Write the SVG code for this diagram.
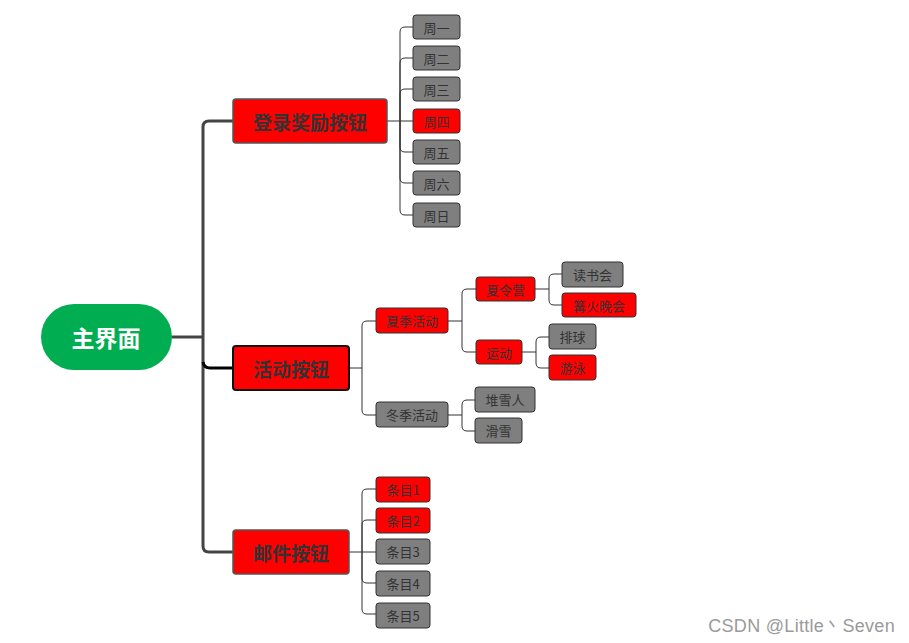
<svg xmlns="http://www.w3.org/2000/svg" width="909" height="643" viewBox="0 0 909 643">
<style>
text{font-family:"Noto Sans CJK SC","Microsoft YaHei",sans-serif;dominant-baseline:central;text-anchor:middle}
.root{fill:#00ad50}
.rt{fill:#fff;font-size:23px;font-weight:bold}
.main{fill:#ff0000;stroke:#555;stroke-width:1.5}
.mt{fill:#333;font-size:19px;font-weight:bold}
.red{fill:#ff0000;stroke:#333;stroke-width:1}
.gray{fill:#7f7f7f;stroke:#333;stroke-width:1}
.st{fill:#333;font-size:13px}
.trunk{fill:none;stroke:#444;stroke-width:3}
.thin{fill:none;stroke:#333;stroke-width:1}
.wm{fill:#9a9a9a;font-family:"Liberation Sans",Arial,sans-serif;font-size:18px;text-anchor:end;letter-spacing:0.3px}
</style>
<g id="connectors">
<path class="trunk" d="M172 337H203"/>
<path class="trunk" d="M209 121H233M203 337V127Q203 121 209 121M203 337V546Q203 552 209 552H233M203 337V362"/>
<path fill="none" stroke="#000" stroke-width="3" d="M203 362Q204 368 210 368H233"/>
<path class="thin" d="M387 121H413M400 121V32Q400 27 405 27H413M400 121V63Q400 58 405 58H413M400 121V94Q400 89 405 89H413M400 121V210Q400 215 405 215H413M400 121V178Q400 183 405 183H413M400 121V147Q400 152 405 152H413"/>
<path class="thin" d="M349 368H362M362 368V326Q362 321 367 321H376M362 368V410Q362 415 367 415H376"/>
<path class="thin" d="M448 321H462M462 321V294Q462 289 467 289H476M462 321V347Q462 352 467 352H476"/>
<path class="thin" d="M535 289H549M549 289V279Q549 274 554 274H562M549 289V300Q549 305 554 305H562"/>
<path class="thin" d="M522 352H536M536 352V342Q536 337 541 337H549M536 352V363Q536 368 541 368H549"/>
<path class="thin" d="M448 415H462M462 415V405Q462 400 467 400H475M462 415V426Q462 431 467 431H475"/>
<path class="thin" d="M349 552H376M362 552V494Q362 489 367 489H376M362 552V525Q362 520 367 520H376M362 552V609Q362 614 367 614H376M362 552V578Q362 583 367 583H376"/>
</g>
<g id="root"><rect class="root" x="41" y="304" width="131" height="66" rx="33"/><text class="rt" x="106" y="337">主界面</text></g>
<g id="login"><rect class="main" x="233" y="99" width="154" height="44" rx="3"/><text class="mt" x="310" y="121">登录奖励按钮</text></g>
<g id="activity"><rect fill="#ff0000" stroke="#111" stroke-width="2" x="233" y="346" width="116" height="44" rx="3"/><text class="mt" x="291" y="368">活动按钮</text></g>
<g id="mail"><rect class="main" x="233" y="530" width="116" height="44" rx="3"/><text class="mt" x="291" y="552">邮件按钮</text></g>
<g id="mon"><rect class="gray" x="413" y="15" width="47" height="24" rx="3"/><text class="st" x="436.5" y="27">周一</text></g>
<g id="tue"><rect class="gray" x="413" y="46" width="47" height="24" rx="3"/><text class="st" x="436.5" y="58">周二</text></g>
<g id="wed"><rect class="gray" x="413" y="77" width="47" height="24" rx="3"/><text class="st" x="436.5" y="89">周三</text></g>
<g id="thu"><rect class="red" x="413" y="109" width="47" height="24" rx="3"/><text class="st" x="436.5" y="121">周四</text></g>
<g id="fri"><rect class="gray" x="413" y="140" width="47" height="24" rx="3"/><text class="st" x="436.5" y="152">周五</text></g>
<g id="sat"><rect class="gray" x="413" y="171" width="47" height="24" rx="3"/><text class="st" x="436.5" y="183">周六</text></g>
<g id="sun"><rect class="gray" x="413" y="203" width="47" height="24" rx="3"/><text class="st" x="436.5" y="215">周日</text></g>
<g id="summer"><rect class="red" x="376" y="308" width="72" height="25" rx="3"/><text class="st" x="412" y="320.5">夏季活动</text></g>
<g id="winter"><rect class="gray" x="376" y="402" width="72" height="25" rx="3"/><text class="st" x="412" y="414.5">冬季活动</text></g>
<g id="camp"><rect class="red" x="476" y="277" width="59" height="24" rx="3"/><text class="st" x="505.5" y="289">夏令营</text></g>
<g id="sport"><rect class="red" x="476" y="340" width="46" height="24" rx="3"/><text class="st" x="499" y="352">运动</text></g>
<g id="read"><rect class="gray" x="562" y="262" width="61" height="25" rx="3"/><text class="st" x="592.5" y="274.5">读书会</text></g>
<g id="bonfire"><rect class="red" x="562" y="293" width="74" height="24" rx="3"/><text class="st" x="599" y="305">篝火晚会</text></g>
<g id="volley"><rect class="gray" x="549" y="324" width="47" height="25" rx="3"/><text class="st" x="572.5" y="336.5">排球</text></g>
<g id="swim"><rect class="red" x="549" y="355" width="47" height="25" rx="3"/><text class="st" x="572.5" y="367.5">游泳</text></g>
<g id="snowman"><rect class="gray" x="475" y="387" width="60" height="25" rx="3"/><text class="st" x="505" y="399.5">堆雪人</text></g>
<g id="ski"><rect class="gray" x="475" y="418" width="47" height="25" rx="3"/><text class="st" x="498.5" y="430.5">滑雪</text></g>
<g id="item1"><rect class="red" x="376" y="477" width="54" height="25" rx="3"/><text class="st" x="403" y="489.5">条目1</text></g>
<g id="item2"><rect class="red" x="376" y="508" width="54" height="25" rx="3"/><text class="st" x="403" y="520.5">条目2</text></g>
<g id="item3"><rect class="gray" x="376" y="539" width="54" height="25" rx="3"/><text class="st" x="403" y="551.5">条目3</text></g>
<g id="item4"><rect class="gray" x="376" y="571" width="54" height="25" rx="3"/><text class="st" x="403" y="583.5">条目4</text></g>
<g id="item5"><rect class="gray" x="376" y="603" width="54" height="25" rx="3"/><text class="st" x="403" y="615.5">条目5</text></g>
<text class="wm" x="895" y="626">CSDN @Little丶Seven</text>
</svg>
